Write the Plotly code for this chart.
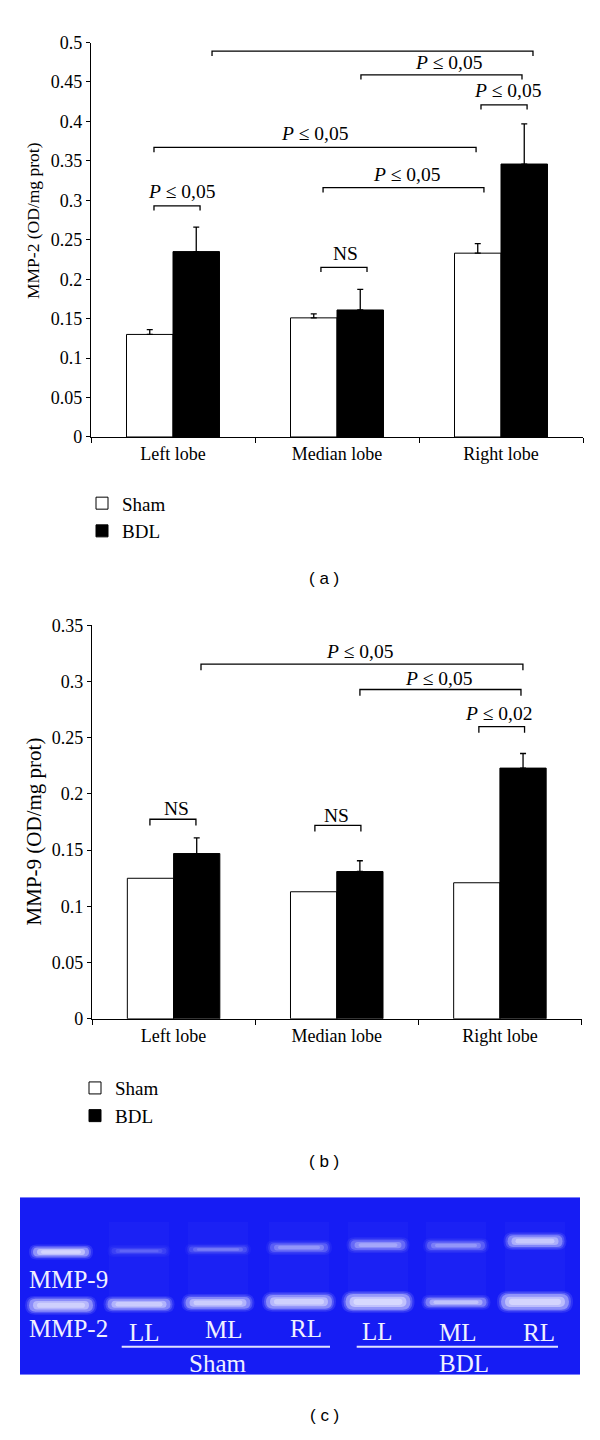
import plotly.graph_objects as go

# ---------------- data ----------------
lobes = ["Left lobe", "Median lobe", "Right lobe"]

mmp2_sham = [0.130, 0.151, 0.233]
mmp2_sham_err = [0.006, 0.005, 0.012]
mmp2_bdl = [0.235, 0.161, 0.346]
mmp2_bdl_err = [0.031, 0.026, 0.051]

mmp9_sham = [0.125, 0.113, 0.121]
mmp9_bdl = [0.147, 0.131, 0.223]
mmp9_bdl_err = [0.014, 0.0096, 0.013]

# significance brackets: (x_start, x_end, level, label, label_x, label_y)
sig_a = [
    (-0.116, 0.165, 0.293, "<i>P</i> ≤ 0,05", 0.055, 0.311),
    (-0.116, 1.848, 0.367, "<i>P</i> ≤ 0,05", 0.866, 0.385),
    (0.915, 1.896, 0.316, "<i>P</i> ≤ 0,05", 1.427, 0.333),
    (0.902, 1.183, 0.215, "NS", 1.049, 0.2325),
    (0.238, 2.195, 0.489, "<i>P</i> ≤ 0,05", 1.125, 0.5025),
    (1.146, 2.128, 0.459, "<i>P</i> ≤ 0,05", 1.683, 0.475),
    (1.878, 2.159, 0.421, "<i>P</i> ≤ 0,05", 2.040, 0.439),
]
sig_b = [
    (-0.145, 0.137, 0.1775, "NS", 0.015, 0.187),
    (0.866, 1.148, 0.172, "NS", 1.001, 0.181),
    (0.168, 2.141, 0.3155, "<i>P</i> ≤ 0,05", 1.140, 0.3263),
    (1.142, 2.129, 0.2929, "<i>P</i> ≤ 0,05", 1.626, 0.3029),
    (1.871, 2.151, 0.2599, "<i>P</i> ≤ 0,02", 1.997, 0.2716),
]

# zymography gel (panel c): lane centres and band properties
gel_lane_x = [41, 119, 198, 279, 358, 436, 515]
mmp9_band_y = [55.5, 54.5, 53, 51, 48.5, 49, 44.5]
mmp9_band_h = [9, 6, 6, 9, 10, 9, 12]
mmp9_band_w = [56, 55, 58, 58, 55, 58, 55]
mmp9_band_int = [0.95, 0.22, 0.32, 0.45, 0.55, 0.45, 0.8]
mmp2_band_y = [109.5, 108.5, 107, 106, 106, 106.5, 106]
mmp2_band_h = [13, 11, 12, 14, 16, 9, 16]
mmp2_band_w = [64, 63, 65, 66, 65, 61, 68]
mmp2_band_int = [0.9, 0.85, 0.85, 0.9, 1.0, 0.75, 0.95]
gel_lane_labels = ["LL", "ML", "RL", "LL", "ML", "RL"]
gel_lane_label_x = [124, 204, 286, 357.5, 438, 519]
gel_lane_label_y = [137, 134, 133, 136, 137, 137]
gel_groups = ["Sham", "BDL"]
gel_group_x = [197.5, 444]
gel_group_line = [(101.7, 310), (336.7, 538)]

# ---------------- helpers ----------------
W, H = 600, 1440
SERIF = "Liberation Serif"
SANS = "Liberation Sans"


def py(p):
    return 1 - p / H


fig = go.Figure()

# panel (a)
fig.add_trace(go.Bar(
    x=lobes, y=mmp2_sham, name="Sham", xaxis="x", yaxis="y",
    marker=dict(color="white", line=dict(color="black", width=1)),
    error_y=dict(type="data", symmetric=False, array=mmp2_sham_err,
                 arrayminus=[0] * 3, color="black", thickness=1.3, width=3),
    legend="legend", offsetgroup="s",
))
fig.add_trace(go.Bar(
    x=lobes, y=mmp2_bdl, name="BDL", xaxis="x", yaxis="y",
    marker=dict(color="black", line=dict(color="black", width=1)),
    error_y=dict(type="data", symmetric=False, array=mmp2_bdl_err,
                 arrayminus=[0] * 3, color="black", thickness=1.3, width=3),
    legend="legend", offsetgroup="b",
))
# panel (b)
fig.add_trace(go.Bar(
    x=lobes, y=mmp9_sham, name="Sham", xaxis="x2", yaxis="y2",
    marker=dict(color="white", line=dict(color="black", width=1)),
    legend="legend2", offsetgroup="s",
))
fig.add_trace(go.Bar(
    x=lobes, y=mmp9_bdl, name="BDL", xaxis="x2", yaxis="y2",
    marker=dict(color="black", line=dict(color="black", width=1)),
    error_y=dict(type="data", symmetric=False, array=mmp9_bdl_err,
                 arrayminus=[0] * 3, color="black", thickness=1.3, width=3),
    legend="legend2", offsetgroup="b",
))

shapes = []
annotations = []


def add_brackets(sig, xr, yr, drop):
    for x0, x1, lvl, lab, tx, ty in sig:
        shapes.append(dict(
            type="path", xref=xr, yref=yr,
            path=f"M {x0},{lvl - drop} L {x0},{lvl} L {x1},{lvl} L {x1},{lvl - drop}",
            line=dict(color="black", width=1.3),
        ))
        annotations.append(dict(
            x=tx, y=ty, xref=xr, yref=yr, text=lab, showarrow=False,
            xanchor="center", yanchor="middle",
            font=dict(family=SERIF, size=19.5, color="black"),
        ))


add_brackets(sig_a, "x", "y", 0.006)
add_brackets(sig_b, "x2", "y2", 0.0055)

# y-axis titles
annotations.append(dict(x=33 / W, y=py(214), xref="paper", yref="paper",
                        xanchor="center", yanchor="middle",
                        text="MMP-2 (OD/mg prot)", textangle=-90, showarrow=False,
                        font=dict(family=SERIF, size=17.5, color="black")))
annotations.append(dict(x=34 / W, y=py(833), xref="paper", yref="paper",
                        xanchor="center", yanchor="middle",
                        text="MMP-9 (OD/mg prot)", textangle=-90, showarrow=False,
                        font=dict(family=SERIF, size=21, color="black")))

# panel labels
for lab, yy in [("( a )", 577), ("( b )", 1168), ("( c )", 1425)]:
    annotations.append(dict(x=324 / W, y=py(yy), xref="paper", yref="paper",
                            xanchor="center", yanchor="middle",
                            text=lab, showarrow=False,
                            font=dict(family=SANS, size=17, color="black")))

# ---------------- gel (panel c) ----------------
shapes.append(dict(type="rect", xref="x3", yref="y3", x0=0, x1=560, y0=0, y1=180,
                   fillcolor="rgb(22,28,244)", line=dict(width=0), layer="below"))


def rounded(x0, x1, y0, y1, r):
    rx = min(r, (x1 - x0) / 2)
    ry = min(r, (y1 - y0) / 2)
    return (f"M {x0 + rx},{y0} L {x1 - rx},{y0} Q {x1},{y0} {x1},{y0 + ry} "
            f"L {x1},{y1 - ry} Q {x1},{y1} {x1 - rx},{y1} L {x0 + rx},{y1} "
            f"Q {x0},{y1} {x0},{y1 - ry} L {x0},{y0 + ry} Q {x0},{y0} {x0 + rx},{y0} Z")


def add_band(cx, cy, w, h, inten):
    layers = [(8, 6, 0.12), (4, 3, 0.22), (0, 0, 0.40), (-8, -h * 0.35, 0.5), (-16, -h * 0.6, 0.5)]
    for dw, dh, op in layers:
        ww, hh = w + dw, max(h + dh, 2)
        shapes.append(dict(
            type="path", xref="x3", yref="y3",
            path=rounded(cx - ww / 2, cx + ww / 2, cy - hh / 2, cy + hh / 2, hh / 2),
            fillcolor="rgb(238,238,255)", opacity=op * inten, line=dict(width=0),
        ))


# faint lane smears
for cx in gel_lane_x[1:]:
    shapes.append(dict(type="rect", xref="x3", yref="y3",
                       x0=cx - 30, x1=cx + 30, y0=25, y1=100,
                       fillcolor="white", opacity=0.025, line=dict(width=0)))

for i, cx in enumerate(gel_lane_x):
    add_band(cx, mmp9_band_y[i], mmp9_band_w[i], mmp9_band_h[i], mmp9_band_int[i])
    add_band(cx, mmp2_band_y[i], mmp2_band_w[i], mmp2_band_h[i], mmp2_band_int[i])

GEL_FONT = dict(family=SERIF, size=25, color="rgb(240,240,255)")
annotations.append(dict(x=7, y=83, xref="x3", yref="y3", text="MMP-9", showarrow=False,
                        xanchor="left", yanchor="middle", font=GEL_FONT))
annotations.append(dict(x=7, y=133, xref="x3", yref="y3", text="MMP-2", showarrow=False,
                        xanchor="left", yanchor="middle", font=GEL_FONT))
for lab, lx, ly in zip(gel_lane_labels, gel_lane_label_x, gel_lane_label_y):
    annotations.append(dict(x=lx, y=ly, xref="x3", yref="y3", text=lab, showarrow=False,
                            xanchor="center", yanchor="middle", font=GEL_FONT))
for lab, gx, (l0, l1) in zip(gel_groups, gel_group_x, gel_group_line):
    shapes.append(dict(type="line", xref="x3", yref="y3", x0=l0, x1=l1, y0=151.7, y1=151.7,
                       line=dict(color="rgb(225,225,255)", width=2)))
    annotations.append(dict(x=gx, y=169, xref="x3", yref="y3", text=lab, showarrow=False,
                            xanchor="center", yanchor="middle", font=GEL_FONT))

# ---------------- axes ----------------
xcommon = dict(type="category", categoryorder="array", categoryarray=lobes,
               tickson="boundaries", ticks="outside", ticklen=5, tickwidth=1.3,
               tickcolor="black", showline=True, linecolor="black", linewidth=1.3,
               showgrid=False, zeroline=False, fixedrange=True,
               tickfont=dict(family=SERIF, size=18, color="black"))
ycommon = dict(ticks="outside", ticklen=4, tickwidth=1.3, tickcolor="black",
               showline=True, linecolor="black", linewidth=1.3, showgrid=False,
               zeroline=False, dtick=0.05, tick0=0,
               tickfont=dict(family=SERIF, size=18, color="black"))

fig.update_layout(
    width=W, height=H,
    margin=dict(l=0, r=0, t=0, b=0),
    paper_bgcolor="white", plot_bgcolor="rgba(0,0,0,0)",
    barmode="group", bargap=0.433, bargroupgap=0,
    xaxis=dict(domain=[91 / W, 583 / W], anchor="y", **xcommon),
    yaxis=dict(domain=[py(433), py(33)], range=[0, 0.5], anchor="x", **ycommon),
    xaxis2=dict(domain=[92 / W, 581.5 / W], anchor="y2", **xcommon),
    yaxis2=dict(domain=[py(1023), py(624)], range=[0, 0.35], anchor="x2", **ycommon),
    xaxis3=dict(domain=[20 / W, 580 / W], range=[0, 560], anchor="y3", visible=False),
    yaxis3=dict(domain=[py(1384), py(1204)], range=[180, 0], anchor="x3", visible=False),
    legend=dict(x=82 / W, y=py(481), xanchor="left", yanchor="top",
                font=dict(family=SERIF, size=19, color="black"),
                bgcolor="rgba(0,0,0,0)", tracegroupgap=0),
    legend2=dict(x=75 / W, y=py(1074), xanchor="left", yanchor="top",
                 font=dict(family=SERIF, size=19, color="black"),
                 bgcolor="rgba(0,0,0,0)", tracegroupgap=0),
    shapes=shapes,
    annotations=annotations,
    showlegend=True,
)

fig.write_html("out.html",
               config={"displayModeBar": False},
               post_script="document.body.style.margin='0px';document.body.style.overflow='hidden';")
